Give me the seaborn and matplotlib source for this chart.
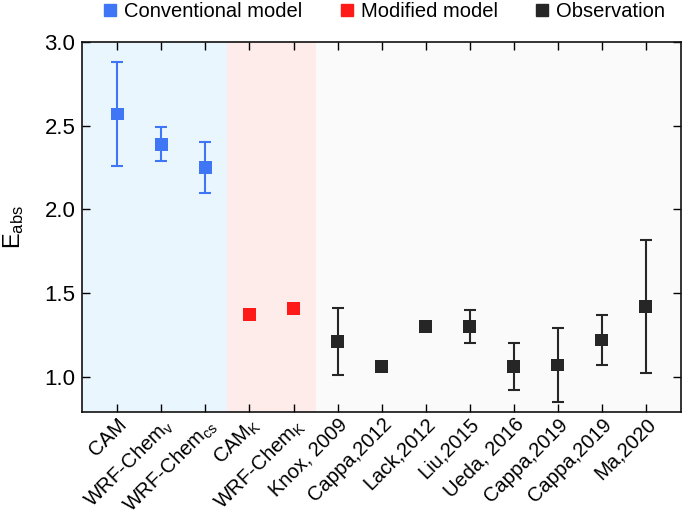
import numpy as np
import pandas as pd
import matplotlib
matplotlib.use("Agg")
import matplotlib.pyplot as plt
import seaborn as sns
from matplotlib.lines import Line2D

categories = ["CAM", r"WRF-Chem$_\mathrm{v}$", r"WRF-Chem$_\mathrm{cs}$", r"CAM$_\mathrm{K}$",
              r"WRF-Chem$_\mathrm{K}$", "Knox, 2009", "Cappa,2012", "Lack,2012", "Liu,2015",
              "Ueda, 2016", "Cappa,2019", "Cappa,2019", "Ma,2020"]
groups = ["Conventional model"] * 3 + ["Modified model"] * 2 + ["Observation"] * 8
values = [2.57, 2.39, 2.25, 1.37, 1.41, 1.21, 1.06, 1.30, 1.30, 1.06, 1.07, 1.22, 1.42]
lower = [2.26, 2.29, 2.10, np.nan, np.nan, 1.01, np.nan, np.nan, 1.20, 0.92, 0.85, 1.07, 1.02]
upper = [2.88, 2.49, 2.40, np.nan, np.nan, 1.41, np.nan, np.nan, 1.40, 1.20, 1.29, 1.37, 1.82]
yticks = [1.0, 1.5, 2.0, 2.5, 3.0]

colors = {"Conventional model": "#3f76f6", "Modified model": "#ff1a1a", "Observation": "#262626"}
bg = {"Conventional model": "#eaf6fd", "Modified model": "#fdecea", "Observation": "#fafafa"}

df = pd.DataFrame({"cat": categories, "group": groups, "val": values, "lo": lower, "hi": upper})
df["x"] = np.arange(len(df))

sns.set_style("ticks")
plt.rcParams["font.family"] = ["Liberation Sans", "DejaVu Sans"]
plt.rcParams["mathtext.fontset"] = "custom"
plt.rcParams["mathtext.rm"] = "Liberation Sans"
plt.rcParams["mathtext.it"] = "Liberation Sans"
plt.rcParams["text.color"] = "black"
plt.rcParams["xtick.color"] = "black"
plt.rcParams["ytick.color"] = "black"
plt.rcParams["axes.labelcolor"] = "black"

fig = plt.figure(figsize=(6.85, 5.2), dpi=100)
ax = fig.add_axes([0.12, 0.208, 0.874, 0.711])

# background spans per group
for g in colors:
    xs = df.loc[df.group == g, "x"]
    ax.axvspan(xs.min() - 0.5 if xs.min() > 0 else -0.8,
               xs.max() + 0.5 if xs.max() < len(df) - 1 else len(df) - 0.2,
               color=bg[g], lw=0, zorder=0)

# error bars
for g in colors:
    sub = df[(df.group == g) & df.lo.notna()]
    if len(sub):
        ax.errorbar(sub.x, sub.val, yerr=[sub.val - sub.lo, sub.hi - sub.val], fmt="none",
                    ecolor=colors[g], elinewidth=1.5, capsize=4.6, capthick=1.5, zorder=2)

sns.scatterplot(data=df, x="x", y="val", hue="group", palette=colors, marker="s", s=85,
                edgecolor="none", ax=ax, legend=False, zorder=3)

ax.set_xlim(-0.8, len(df) - 0.2)
ax.set_ylim(0.79, 3.0)
ax.set_yticks(yticks)
ax.set_yticklabels([f"{t:.1f}" for t in yticks], fontsize=16)
ax.set_xticks(df.x)
ax.set_xticklabels(categories, rotation=45, ha="right", rotation_mode="anchor", fontsize=14.5)
ax.set_xlabel("")
ax.set_ylabel(r"E$_\mathrm{abs}$", fontsize=17, labelpad=13)
ax.tick_params(direction="in", top=True, right=True, length=6, width=1, pad=5)
ax.tick_params(axis="x", pad=2)
for s in ax.spines.values():
    s.set_linewidth(1.2)
    s.set_color("#111111")

handles = [Line2D([0], [0], marker="s", ls="none", color=colors[g], markersize=9) for g in colors]
fig.legend(handles, list(colors), loc="center", bbox_to_anchor=(0.557, 0.977), ncol=3,
           frameon=False, fontsize=14.5, handletextpad=0.1, columnspacing=1.6,
           handlelength=1.2)

fig.savefig("out.png", dpi=100)
